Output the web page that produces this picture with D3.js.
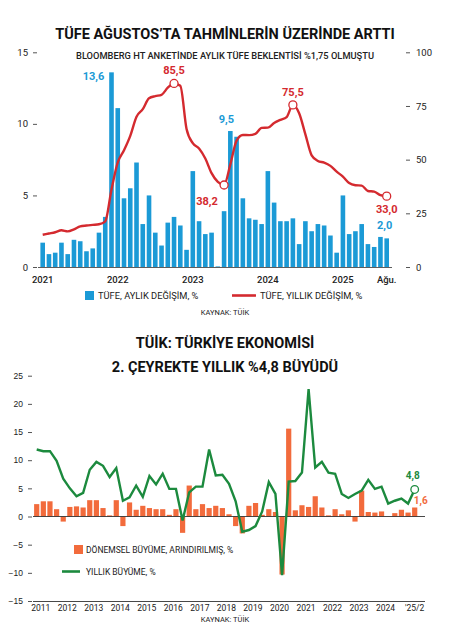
<!DOCTYPE html>
<html><head><meta charset="utf-8">
<script src="https://cdn.jsdelivr.net/npm/d3@7"></script>
<style>body{margin:0;background:#fff}svg{font-family:Roboto,"Noto Sans",sans-serif}</style>
</head><body><svg id="c" width="451" height="624"></svg>
<script>
const monthlyCPI=[1.7,0.9,1.0,1.7,0.9,1.9,1.8,1.1,1.3,2.4,3.5,13.6,
11.1,4.8,5.5,7.3,3.0,5.0,2.4,1.5,3.1,3.5,2.9,1.2,
6.7,3.2,2.3,2.4,0.04,3.9,9.5,9.1,4.8,3.4,3.3,3.0,
6.7,4.5,3.2,3.2,3.4,1.6,3.2,2.5,3.0,2.9,2.2,1.0,
5.0,2.3,2.5,3.0,1.6,1.4,2.1,2.0];
const annualCPI=[15.0,15.6,16.2,17.1,16.6,17.5,18.9,19.3,19.6,19.9,21.3,36.1,
48.7,54.4,61.1,70.0,73.5,78.6,79.6,80.2,83.5,85.5,84.4,64.3,
57.7,55.2,50.5,43.7,39.6,38.2,47.8,58.9,61.5,61.4,62.0,64.8,
64.9,67.1,68.5,69.8,75.5,71.6,61.8,52.0,49.4,48.6,47.1,44.4,
42.1,39.1,38.1,37.9,35.4,35.1,33.5,33.0];
const topXLabels=[[0,"2021"],[12,"2022"],[24,"2023"],[36,"2024"],[48,"2025"],[55,"Ağu."]];
const qoqGDP=[2.2,2.7,2.7,1.3,-0.9,1.7,1.8,1.6,2.9,2.9,1.5,0.2,2.9,-1.7,2.5,1.2,
1.9,1.5,1.3,1.3,0.3,1.3,-2.9,5.5,1.3,2.2,1.5,1.9,1.5,0.4,-1.7,-3.0,
1.9,2.4,0.3,1.3,0.8,-10.3,15.6,1.1,2.0,1.7,3.6,1.6,0.2,1.3,0.4,1.1,
-0.9,4.6,0.8,0.7,0.9,0.0,0.6,1.2,0.7,1.6];
const yoyGDP=[11.9,11.6,11.6,9.9,6.7,5.0,3.6,4.2,8.3,9.7,9.0,7.0,8.6,2.8,3.4,5.5,
3.5,7.2,5.7,7.6,4.9,4.9,-0.7,4.3,5.3,5.3,11.9,7.3,7.4,5.8,2.7,-2.7,
-2.4,-1.7,0.9,6.1,4.0,-10.4,6.2,6.3,7.8,22.6,8.7,9.7,7.8,7.6,4.0,3.3,
4.0,4.6,6.5,4.9,5.3,2.3,2.8,3.2,2.3,4.8];
const botXLabels=["2011","2012","2013","2014","2015","2016","2017","2018","2019","2020","2021","2022","2023","2024","'25/2"];

const BLUE="#1b9ad6",RED="#d42a2f",ORANGE="#f26b3c",GREEN="#1c8a3e",TXT="#222";
const svg=d3.select("#c");

// ---------- TOP ----------
svg.append("text").attr("x",225).attr("y",39).attr("text-anchor","middle").attr("font-weight",700).attr("font-size",14.5).attr("fill","#111").text("TÜFE AĞUSTOS’TA TAHMİNLERİN ÜZERİNDE ARTTI");
svg.append("text").attr("x",225).attr("y",59).attr("text-anchor","middle").attr("font-size",9.3).attr("font-weight",500).attr("fill",TXT).text("BLOOMBERG HT ANKETİNDE AYLIK TÜFE BEKLENTİSİ %1,75 OLMUŞTU");
const xt=d3.scaleLinear().domain([0,55]).range([42.7,386.7]);
const yl=d3.scaleLinear().domain([0,15]).range([267,52.3]);
const yr=d3.scaleLinear().domain([0,100]).range([267,52.3]);
const gT=svg.append("g");
gT.selectAll("rect").data(monthlyCPI).join("rect").attr("x",(d,i)=>xt(i)-2.3).attr("width",4.6)
 .attr("y",d=>yl(d)).attr("height",d=>yl(0)-yl(d)).attr("fill",BLUE);
const la=d3.axisLeft(yl).tickValues([0,5,10,15]).tickSize(4).tickPadding(5);
const ga=svg.append("g").attr("transform","translate(37,0)").call(la);
ga.select(".domain").remove();
const ra=d3.axisRight(yr).tickValues([0,25,50,75,100]).tickSize(4).tickPadding(6);
const gb=svg.append("g").attr("transform","translate(406,0)").call(ra);
gb.select(".domain").remove();
[ga,gb].forEach(g=>{g.selectAll("text").attr("font-size",9.5).attr("fill",TXT).style("font-family","Roboto");g.selectAll("line").attr("stroke","#555");});
svg.append("line").attr("x1",38).attr("x2",392).attr("y1",267.5).attr("y2",267.5).attr("stroke","#333").attr("stroke-width",0.8);
svg.append("path").datum(annualCPI).attr("fill","none").attr("stroke",RED).attr("stroke-width",2.4)
 .attr("d",d3.line().x((d,i)=>xt(i)).y(d=>yr(d)).curve(d3.curveMonotoneX));
[21,29,40,55].forEach(i=>svg.append("circle").attr("cx",xt(i)).attr("cy",yr(annualCPI[i])).attr("r",4).attr("fill","#fff").attr("stroke",RED).attr("stroke-width",1.3));
const lab=(x,y,t,c,a="middle")=>svg.append("text").attr("x",x).attr("y",y).attr("text-anchor",a).attr("font-weight",700).attr("font-size",11).attr("fill",c).text(t);
lab(xt(11)-18,yl(13.6)+8,"13,6",BLUE);
lab(xt(21),yr(85.5)-9,"85,5",RED);
lab(xt(29)-17,yr(38.2)+20,"38,2",RED);
lab(xt(30)-4,yl(9.5)-8,"9,5",BLUE);
lab(xt(40),yr(75.5)-9,"75,5",RED);
lab(xt(55),yr(33)+17,"33,0",RED);
lab(xt(55)-2,yl(2.0)-9,"2,0",BLUE);
topXLabels.forEach(([i,t])=>svg.append("text").attr("x",xt(i)).attr("y",283).attr("text-anchor","middle").attr("font-size",9.5).attr("font-weight",500).attr("fill",TXT).text(t));
svg.append("rect").attr("x",85).attr("y",291).attr("width",9).attr("height",9).attr("fill",BLUE);
svg.append("text").attr("x",98).attr("y",299).attr("font-size",9.3).attr("fill",TXT).text("TÜFE, AYLIK DEĞİŞİM, %");
svg.append("line").attr("x1",232).attr("x2",256).attr("y1",295.5).attr("y2",295.5).attr("stroke",RED).attr("stroke-width",2.6);
svg.append("text").attr("x",260).attr("y",299).attr("font-size",9.3).attr("fill",TXT).text("TÜFE, YILLIK DEĞİŞİM, %");
svg.append("text").attr("x",225).attr("y",315).attr("text-anchor","middle").attr("font-size",7.5).attr("fill",TXT).text("KAYNAK: TÜİK");

// ---------- BOTTOM ----------
svg.append("text").attr("x",225).attr("y",348).attr("text-anchor","middle").attr("font-weight",700).attr("font-size",14.5).attr("fill","#111").text("TÜİK: TÜRKİYE EKONOMİSİ");
svg.append("text").attr("x",225).attr("y",372).attr("text-anchor","middle").attr("font-weight",700).attr("font-size",14.5).attr("fill","#111").text("2. ÇEYREKTE YILLIK %4,8 BÜYÜDÜ");
const xb=d3.scaleLinear().domain([0,57]).range([36.7,414.7]);
const yb=d3.scaleLinear().domain([-15,25]).range([601,375.7]);
svg.append("g").selectAll("rect").data(qoqGDP).join("rect").attr("x",(d,i)=>xb(i)-2.6).attr("width",5.2)
 .attr("y",d=>yb(Math.max(0,d))).attr("height",d=>Math.abs(yb(d)-yb(0))).attr("fill",ORANGE);
const ba=d3.axisLeft(yb).tickValues([-15,-10,-5,0,5,10,15,20,25]).tickSize(4).tickPadding(5);
const gc=svg.append("g").attr("transform","translate(32,0)").call(ba);
gc.select(".domain").remove();
gc.selectAll("text").attr("font-size",8.5).attr("fill",TXT);gc.selectAll("line").attr("stroke","#555");
svg.append("line").attr("x1",33).attr("x2",425).attr("y1",yb(0)).attr("y2",yb(0)).attr("stroke","#333").attr("stroke-width",0.9);
svg.append("line").attr("x1",33).attr("x2",425).attr("y1",601.5).attr("y2",601.5).attr("stroke","#333").attr("stroke-width",0.9);
svg.append("path").datum(yoyGDP).attr("fill","none").attr("stroke",GREEN).attr("stroke-width",2.4)
 .attr("d",d3.line().x((d,i)=>xb(i)).y(d=>yb(d)));
svg.append("circle").attr("cx",xb(57)).attr("cy",yb(4.8)).attr("r",3.8).attr("fill","#fff").attr("stroke",GREEN).attr("stroke-width",1.3);
lab(xb(57)-2,yb(4.8)-10,"4,8",GREEN).attr("font-size",10);
lab(xb(57)+6,yb(1.6)-4,"1,6",ORANGE).attr("font-size",10);
botXLabels.forEach((t,k)=>svg.append("text").attr("x",k<14?xb(k*4)+4:xb(57)).attr("y",611).attr("text-anchor","middle").attr("font-size",8.5).attr("fill",TXT).text(t));
svg.append("rect").attr("x",74).attr("y",545).attr("width",9).attr("height",9).attr("fill",ORANGE);
svg.append("text").attr("x",86).attr("y",553).attr("font-size",8.5).attr("fill",TXT).text("DÖNEMSEL BÜYÜME, ARINDIRILMIŞ, %");
svg.append("line").attr("x1",62).attr("x2",80).attr("y1",571.5).attr("y2",571.5).attr("stroke",GREEN).attr("stroke-width",2.6);
svg.append("text").attr("x",86).attr("y",575).attr("font-size",8.5).attr("fill",TXT).text("YILLIK BÜYÜME, %");
svg.append("text").attr("x",225).attr("y",622).attr("text-anchor","middle").attr("font-size",7.5).attr("fill",TXT).text("KAYNAK: TÜİK");
</script></body></html>
